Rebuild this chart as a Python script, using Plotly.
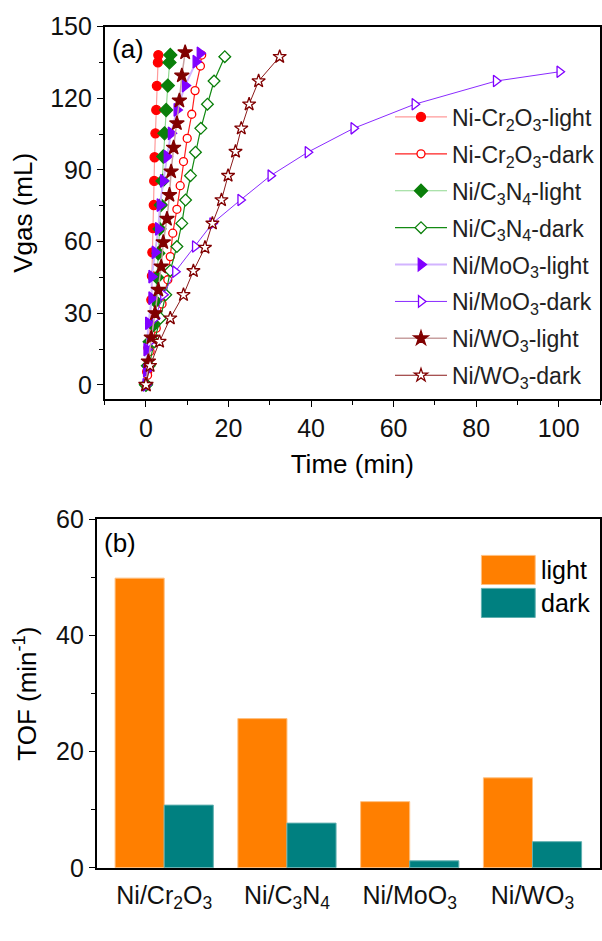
import plotly.graph_objects as go
from plotly.subplots import make_subplots

# ---------------- data (a) ----------------
cr_light_t = [0, 0.3, 0.6, 1.0, 1.3, 1.45, 1.55, 1.7, 1.9, 2.0, 2.1, 2.3, 2.5, 2.65, 2.9, 3.0]
cr_light_v = [0, 5.5, 15.5, 25.8, 35.6, 45.6, 55.5, 65.6, 75.3, 85.4, 95.3, 105.3, 115.1, 125.2, 135.0, 138.1]
cr_dark_t = [0, 0.4, 1.0, 2.5, 3.9, 5.3, 5.9, 6.5, 7.5, 8.3, 9.1, 10.0, 11.1, 11.9, 13.2, 13.5]
cr_dark_v = [0, 4, 14, 23.7, 33.9, 44, 53.7, 63.5, 73.5, 83.4, 93.5, 103.2, 113.3, 123.2, 133.5, 138.1]
c3_light_t = [0, 0.5, 0.9, 1.8, 2.3, 2.7, 3.0, 3.3, 3.6, 4.0, 4.2, 4.5, 4.9, 5.3, 5.7, 5.9]
c3_light_v = [0, 8, 18, 25, 35, 45, 55.1, 65.3, 75.3, 85.4, 95.6, 105.3, 115.1, 125.3, 135, 138.1]
c3_dark_t = [0, 0.8, 2.0, 3.5, 4.8, 5.9, 7.5, 8.7, 9.6, 10.8, 12.0, 13.3, 14.9, 16.5, 19.1]
c3_dark_v = [0, 8, 18, 27.9, 37.7, 47.8, 57.9, 67.6, 77.4, 87.6, 97.4, 107.4, 117.5, 127.2, 137.4]
mo_light_t = [0, 0.1, 0.2, 0.6, 1.4, 1.4, 2.2, 3.0, 3.4, 4.2, 5.1, 6.1, 7.5, 9.5, 12.1, 13.1]
mo_light_v = [0, 6, 14.8, 25.8, 36.3, 45.3, 55.5, 65.3, 75.3, 85.4, 95.6, 105.3, 115.1, 125.3, 135.3, 138.8]
mo_dark_t = [0, 0.5, 1.0, 2.2, 4.2, 7.1, 11.9, 16.1, 22.9, 30.2, 39.2, 50.3, 65.1, 84.8, 100.2]
mo_dark_v = [0, 8, 18.1, 27.9, 37.7, 47.4, 57.9, 67.6, 77.4, 87.6, 97.4, 107.4, 117.5, 127.2, 131.1]
wo_light_t = [0, 0.6, 1.3, 2.2, 3.0, 3.7, 4.2, 5.1, 5.7, 6.1, 6.7, 7.5, 8.1, 8.7, 9.5]
wo_light_v = [0, 9.8, 19.8, 30, 39.8, 49.5, 59.7, 69.5, 79.5, 89.3, 99.3, 109.5, 119, 129.5, 139.2]
wo_dark_t = [0, 1.0, 3.3, 5.9, 9.1, 11.5, 14.3, 16.1, 18.3, 19.9, 21.7, 23.1, 25.0, 27.3, 32.4]
wo_dark_v = [0, 8, 18.1, 27.9, 37.7, 47.7, 57.5, 67.6, 77.4, 87.6, 97.7, 107.4, 117.5, 127.2, 137.4]

series_names = [
    "Ni-Cr<sub>2</sub>O<sub>3</sub>-light", "Ni-Cr<sub>2</sub>O<sub>3</sub>-dark",
    "Ni/C<sub>3</sub>N<sub>4</sub>-light", "Ni/C<sub>3</sub>N<sub>4</sub>-dark",
    "Ni/MoO<sub>3</sub>-light", "Ni/MoO<sub>3</sub>-dark",
    "Ni/WO<sub>3</sub>-light", "Ni/WO<sub>3</sub>-dark",
]

# ---------------- data (b) ----------------
catalysts = ["Ni/Cr<sub>2</sub>O<sub>3</sub>", "Ni/C<sub>3</sub>N<sub>4</sub>",
             "Ni/MoO<sub>3</sub>", "Ni/WO<sub>3</sub>"]
tof_light = [49.9, 25.7, 11.4, 15.5]
tof_dark = [10.8, 7.7, 1.2, 4.5]

W, H = 602, 941
FONT = "Liberation Sans, Arial, sans-serif"

fig = make_subplots(rows=2, cols=1)

# style: (line color, line width, marker symbol, marker fill, marker outline, size)
styles = [
    ("#FF9A9A", 1.2, "circle", "#FF0000", "#FF0000", 9),
    ("#FF2020", 1.2, "circle", "white", "#FF0000", 8),
    ("#8FD88F", 1.2, "diamond", "#0A7F0A", "#0A7F0A", 10),
    ("#138A13", 1.2, "diamond", "white", "#0A7F0A", 9),
    ("#D2B4FF", 2.0, "triangle-right", "#8000FF", "#8000FF", 11),
    ("#8A2BFF", 1.0, "triangle-right", "white", "#8000FF", 10),
    ("#C8A0A0", 1.5, "star", "#800000", "#800000", 11),
    ("#8B1A1A", 1.0, "star", "white", "#800000", 10),
]
data = [
    (cr_light_t, cr_light_v), (cr_dark_t, cr_dark_v),
    (c3_light_t, c3_light_v), (c3_dark_t, c3_dark_v),
    (mo_light_t, mo_light_v), (mo_dark_t, mo_dark_v),
    (wo_light_t, wo_light_v), (wo_dark_t, wo_dark_v),
]
for i, ((t, v), name, st) in enumerate(zip(data, series_names, styles)):
    lc, lw, sym, fc, oc, sz = st
    fig.add_trace(go.Scatter(
        x=t, y=v, mode="lines+markers", name=name, legendgroup=f"g{i}",
        line=dict(color=lc, width=lw),
        marker=dict(symbol=sym, color=fc, size=sz, line=dict(color=oc, width=1.3)),
    ), row=1, col=1)

fig.add_trace(go.Bar(x=catalysts, y=tof_light, name="light", showlegend=False,
                     marker=dict(color="#FF7F00", line=dict(color="#FFC080", width=1))),
              row=2, col=1)
fig.add_trace(go.Bar(x=catalysts, y=tof_dark, name="dark", showlegend=False,
                     marker=dict(color="#008080", line=dict(color="#60B0B0", width=1))),
              row=2, col=1)

TICK = 25
TITLE = 26
axis_common = dict(showline=True, linecolor="black", linewidth=1.5, mirror=True,
                   ticks="outside", tickcolor="black", ticklen=6, tickwidth=1.2,
                   showgrid=False, zeroline=False,
                   tickfont=dict(family=FONT, size=TICK, color="#111"))

TOP_A, BOT_A = 13, 397
TOP_B, BOT_B = 521, 880

fig.update_layout(
    width=W, height=H, margin=dict(l=0, r=0, t=0, b=0),
    paper_bgcolor="white", plot_bgcolor="white",
    barmode="group", bargap=0.2, bargroupgap=0.0,
    font=dict(family=FONT, color="black"),
    showlegend=True,
    legend=dict(x=1.0, y=1 - 84 / H, xanchor="right", yanchor="top",
                bgcolor="rgba(0,0,0,0)", borderwidth=0,
                font=dict(family=FONT, size=23, color="#222"),
                itemwidth=52, tracegroupgap=4, traceorder="grouped"),
)

fig.update_xaxes(axis_common, row=1, col=1)
fig.update_xaxes(domain=[105 / W, 1.0], range=[-10, 110], tickvals=[0, 20, 40, 60, 80, 100],
                 minor=dict(ticks="outside", ticklen=4, tickcolor="black", dtick=10, tick0=0),
                 title=dict(text="Time (min)", font=dict(family=FONT, size=TITLE), standoff=14),
                 row=1, col=1)
fig.update_yaxes(axis_common, row=1, col=1)
fig.update_yaxes(domain=[1 - BOT_A / H, 1 - TOP_A / H], range=[-6, 150],
                 tickvals=[0, 30, 60, 90, 120, 150],
                 minor=dict(ticks="outside", ticklen=4, tickcolor="black", dtick=15, tick0=0),
                 title=dict(text="Vgas (mL)", font=dict(family=FONT, size=TITLE), standoff=10),
                 row=1, col=1)

fig.update_xaxes(axis_common, row=2, col=1)
fig.update_xaxes(domain=[97 / W, 1.0], range=[-0.55, 3.55], ticks="", ticklabelstandoff=4,
                 tickfont=dict(family=FONT, size=TICK, color="#111"),
                 row=2, col=1)
fig.update_yaxes(axis_common, row=2, col=1)
fig.update_yaxes(domain=[1 - BOT_B / H, 1 - TOP_B / H], range=[0, 60],
                 tickvals=[0, 20, 40, 60],
                 minor=dict(ticks="outside", ticklen=4, tickcolor="black", dtick=10, tick0=0),
                 title=dict(text="TOF (min<sup>-1</sup>)", font=dict(family=FONT, size=TITLE), standoff=12),
                 row=2, col=1)

# panel labels
fig.add_annotation(text="(a)", x=110 / W, y=1 - 36 / H, xref="paper", yref="paper",
                   xanchor="left", yanchor="middle", showarrow=False,
                   font=dict(family=FONT, size=26, color="black"))
fig.add_annotation(text="(b)", x=102 / W, y=1 - 545 / H, xref="paper", yref="paper",
                   xanchor="left", yanchor="middle", showarrow=False,
                   font=dict(family=FONT, size=26, color="black"))

# bar legend (swatches + labels)
for label, color, edge, yc in [("light", "#FF7F00", "#FFC080", 573), ("dark", "#008080", "#60B0B0", 607)]:
    fig.add_shape(type="rect", xref="paper", yref="paper",
                  x0=483 / W, x1=537 / W, y0=1 - (yc + 15) / H, y1=1 - (yc - 15) / H,
                  fillcolor=color, line=dict(color=edge, width=1))
    fig.add_annotation(text=label, x=541 / W, y=1 - yc / H, xref="paper", yref="paper",
                       xanchor="left", yanchor="middle", showarrow=False,
                       font=dict(family=FONT, size=25, color="black"))

fig.write_html("out.html")
